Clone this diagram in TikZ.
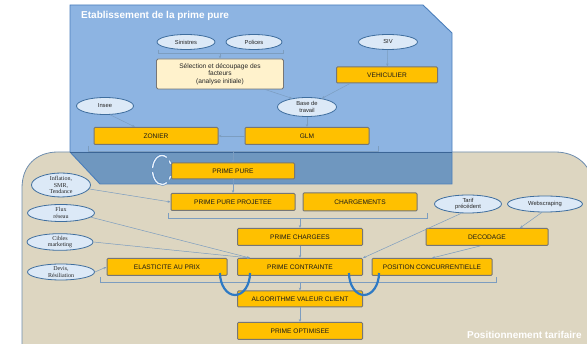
\documentclass[tikz,border=0pt]{standalone}
\usepackage{fontspec}
\setmainfont{Liberation Sans}
\newfontfamily\serifell{Liberation Serif}
\usetikzlibrary{shapes.geometric,arrows.meta}
\definecolor{beige}{HTML}{DDD6C1}
\definecolor{beigeedge}{HTML}{6E8DAE}
\definecolor{bluereg}{HTML}{8DB4E2}
\definecolor{bluedark}{HTML}{6F97BF}
\definecolor{blueedge}{HTML}{4A7EBB}
\definecolor{boxfill}{HTML}{FFC000}
\definecolor{boxedge}{HTML}{767676}
\definecolor{selfill}{HTML}{FFF2CC}
\definecolor{ellfill}{HTML}{DCE9F7}
\definecolor{elledge}{HTML}{3F6E9E}
\definecolor{connc}{HTML}{7C9DC0}
\definecolor{cyc}{HTML}{2E7AC4}
\tikzset{
  box/.style={rectangle, fill=boxfill, draw=boxedge, line width=1pt, rounded corners=1pt,
    inner sep=0pt, minimum width=124pt, minimum height=17pt,
    font=\fontsize{6.6}{7}\selectfont, text=black!90},
  ell/.style={ellipse, fill=ellfill, draw=elledge, line width=0.8pt, inner sep=0pt,
    align=center, font=\fontsize{5.8}{6.3}\selectfont, text=black!85},
  lell/.style={ell, font=\serifell\fontsize{6}{6.3}\selectfont},
  conn/.style={draw=connc, line width=0.5pt, -{Stealth[length=3pt,width=2.4pt]}},
  bline/.style={draw=connc, line width=0.5pt},
  uarc/.style={draw=cyc, line width=2.2pt},
  refresh/.style={draw=blueedge, line width=0.5pt, double=ellfill!60!white, double distance=1.4pt},
  regtitle/.style={anchor=west, text=white, font=\bfseries\fontsize{10}{11}\selectfont, inner sep=0pt}
}
\begin{document}
\begin{tikzpicture}[x=1pt, y=-1pt]
\useasboundingbox (0,0) rectangle (587,344);
% regions
\path[fill=beige, draw=beigeedge, line width=0.8pt]
  (22,346) -- (22,188) .. controls (22,166) and (36,152) .. (58,152)
  -- (555,152) .. controls (577,152) and (593,166) .. (593,188) -- (593,346) -- cycle;
\path[fill=bluereg] (70,5) -- (423,5) -- (452,33) -- (452,152) -- (70,152) -- cycle;
\path[fill=bluedark] (70,152) -- (452,152) -- (452,184) -- (100,184) -- cycle;
\draw[blueedge, line width=0.9pt] (70,5) -- (423,5) -- (452,33) -- (452,184) -- (100,184) -- (70,152) -- cycle;
\draw[blueedge!80!black, line width=0.6pt] (70,152) -- (452,152);
% titles
\node[regtitle] (t1) at (81,16) {Etablissement de la prime pure};
\node[regtitle] (t2) at (467,335) {Positionnement tarifaire};
% top part
\node[ell, minimum width=58pt, minimum height=15pt] (sin) at (186,42) {Sinistres};
\node[ell, minimum width=56pt, minimum height=15pt] (pol) at (254,42) {Polices};
\node[ell, minimum width=59pt, minimum height=15pt] (siv) at (388,42) {SIV};
\node[rectangle, fill=selfill, draw=boxedge, line width=0.9pt, rounded corners=1.5pt,
  minimum width=127pt, minimum height=30pt, inner sep=0pt, align=center,
  font=\fontsize{6.6}{7.4}\selectfont, text=black!85] (sel) at (220,74)
  {Sélection et découpage des\\facteurs\\(analyse initiale)};
\node[box, minimum width=101pt, minimum height=16pt] (veh) at (387,75) {VEHICULIER};
\node[ell, minimum width=57pt, minimum height=17pt] (insee) at (105,106) {Insee};
\node[ell, minimum width=59pt, minimum height=19pt] (base) at (307,107) {Base de\\travail};
\node[box] (zon) at (156,136) {ZONIER};
\node[box] (glm) at (307,136) {GLM};
\node[box, minimum height=16pt, minimum width=123pt] (pp) at (233,171) {PRIME PURE};
% lower part
\node[box] (ppp) at (233,202) {PRIME PURE PROJETEE};
\node[box, minimum width=114pt, minimum height=18pt] (chg) at (360,202) {CHARGEMENTS};
\node[ell, minimum width=67pt, minimum height=18pt] (tarif) at (468,204) {Tarif\\précédent};
\node[ell, minimum width=75pt, minimum height=16pt] (web) at (545,204) {Webscraping};
\node[box, minimum width=125pt] (pc) at (300,237) {PRIME CHARGEES};
\node[box, minimum width=122pt] (dec) at (487,237) {DECODAGE};
\node[box, minimum width=125pt] (pcon) at (300,267) {PRIME CONTRAINTE};
\node[box, minimum width=120pt] (ela) at (167,267) {ELASTICITE AU PRIX};
\node[box, minimum width=120pt] (pos) at (432,267) {POSITION CONCURRENTIELLE};
\node[box, minimum width=125pt, minimum height=16pt] (alg) at (300,299) {ALGORITHME VALEUR CLIENT};
\node[box, minimum width=125pt] (opt) at (300,331) {PRIME OPTIMISEE};
\node[lell, minimum width=59pt, minimum height=23pt] (infl) at (61,185) {Inflation,\\SMR,\\Tendance};
\node[lell, minimum width=67pt, minimum height=17pt] (flux) at (61,213) {Flux\\réseau};
\node[lell, minimum width=66pt, minimum height=16pt] (cib) at (60,242) {Cibles\\marketing};
\node[lell, minimum width=67pt, minimum height=16pt] (devis) at (61,272) {Devis,\\Résiliation};
% bracket coordinates
\coordinate (b1a) at (158,50); \coordinate (b1b) at (158,53); \coordinate (b1m) at (220,53);
\coordinate (b1c) at (283,53); \coordinate (b1d) at (283,50);
\coordinate (b2a) at (88,146); \coordinate (b2b) at (88,151); \coordinate (b2m) at (233,151);
\coordinate (b2c) at (378,151); \coordinate (b2d) at (378,146);
\coordinate (b3a) at (168,213); \coordinate (b3b) at (168,218); \coordinate (b3m) at (300,218);
\coordinate (b3c) at (427,218); \coordinate (b3d) at (427,213);
\coordinate (b4a) at (100,277); \coordinate (b4b) at (100,282); \coordinate (b4m) at (300,282);
\coordinate (b4c) at (496,282); \coordinate (b4d) at (496,277);
% connectors
\draw[bline] (b1a) -- (b1b) -- (b1c) -- (b1d);
\draw[conn] (b1m) -- (sel.north);
\draw[conn] (siv) -- (veh);
\draw[conn] ([xshift=45pt]sel.south) -- (base.150);
\draw[conn] ([xshift=-37pt]veh.south) -- (base.30);
\draw[conn] (insee.-60) -- ([xshift=-21pt]zon.north);
\draw[conn] (base) -- (glm);
\draw[conn] (glm) -- (zon);
\draw[bline] (b2a) -- (b2b) -- (b2c) -- (b2d);
\draw[conn] (b2m) -- (pp.north);
\draw[conn] (pp) -- (ppp);
\draw[conn] (infl.-8) -- (ppp.west);
\draw[bline] (b3a) -- (b3b) -- (b3c) -- (b3d);
\draw[conn] (b3m) -- (pc.north);
\draw[conn] (pc) -- (pcon);
\draw[conn] (flux.-8) -- ([xshift=-50pt]pcon.north);
\draw[conn] (cib.east) -- ([xshift=-50pt]pcon.north);
\draw[conn] (tarif.-125) -- (pcon.north east);
\draw[conn] (web.-110) -- ([xshift=33pt]dec.north);
\draw[conn] ([xshift=-7pt]dec.south) -- (pos.north);
\draw[conn] (devis.east) -- (ela.west);
\draw[bline] (b4a) -- (b4b) -- (b4c) -- (b4d);
\draw[conn] (b4m) -- (alg.north);
\draw[conn] (alg) -- (opt);
% cycle symbols
\draw[uarc] (250,273) arc[start angle=0, end angle=180, x radius=15, y radius=22];
\draw[uarc] (379,273) arc[start angle=0, end angle=180, x radius=15, y radius=22];
\draw[refresh] (162,170) ++(-60:9.5 and 14.5) arc[start angle=-60, end angle=-172, x radius=9.5, y radius=14.5];
\draw[refresh] (162,170) ++(172:9.5 and 14.5) arc[start angle=172, end angle=60, x radius=9.5, y radius=14.5];
\draw[refresh] (162,170) ++(-40:9.5 and 14.5) arc[start angle=-40, end angle=-25, x radius=9.5, y radius=14.5];
\draw[refresh] (162,170) ++(40:9.5 and 14.5) arc[start angle=40, end angle=25, x radius=9.5, y radius=14.5];
\end{tikzpicture}
\end{document}
